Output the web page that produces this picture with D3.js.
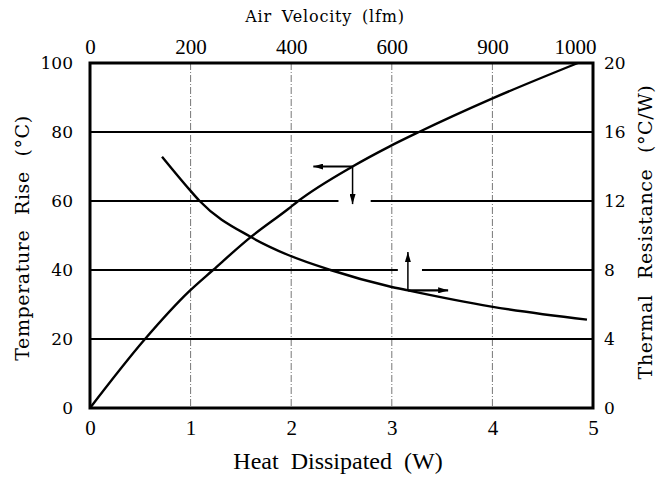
<!DOCTYPE html>
<html><head><meta charset="utf-8">
<script src="https://cdn.jsdelivr.net/npm/d3@7"></script>
<style>body{margin:0;background:#fff}svg{display:block}.tm{font-family:"Liberation Serif","Times New Roman",Times,serif}</style>
</head><body>
<script>
// Data
const heatTicks = [0,1,2,3,4,5];
const airVelocityLabels = ["0","200","400","600","900","1000"];
const tempTicks = [0,20,40,60,80,100];
const resTicks = [0,4,8,12,16,20];

const tempHeat = [0,0.547,0.985,1.223,1.6,1.97,2.07,2.61,2.97,3.27,3.99,4.85];
const tempRise = [0,20,33.8,40,49.6,57.7,60,70,75.7,80,89.6,100];

const resHeat = [0.716,0.985,1.09,1.6,1.97,2.39,2.97,3.16,3.99,4.94];
const resValue = [14.57,12.69,12,9.91,8.87,8,7.06,6.82,5.88,5.12];

// arrows (data units)
const leftArrow = {heat:2.61, temp:70, toHeat:2.22, toTemp:59.1};
const rightArrow = {heat:3.16, res:6.82, toHeat:3.56, toRes:9.04};
// gridline gaps (heat ranges)
const gap60 = [2.47,2.79];
const gap40 = [3.06,3.30];

const W=661,H=481;
const m={l:90,r:593,t:63,b:408};
const svg=d3.select("body").append("svg").attr("width",W).attr("height",H);
const x=d3.scaleLinear().domain([0,5]).range([m.l,m.r]);
const yT=d3.scaleLinear().domain([0,100]).range([m.b,m.t]);
const yR=d3.scaleLinear().domain([0,20]).range([m.b,m.t]);

// vertical dashed grid
svg.append("g").selectAll("line").data([1,2,3,4]).join("line")
  .attr("x1",d=>x(d)).attr("x2",d=>x(d)).attr("y1",m.t).attr("y2",m.b)
  .attr("stroke","#777").attr("stroke-width",1).attr("stroke-dasharray","7,2,1,2");

// horizontal grid with gaps
const hg=svg.append("g").attr("stroke","#000").attr("stroke-width",2);
[20,40,60,80].forEach(t=>{
  let segs=[[0,5]];
  if(t===60) segs=[[0,gap60[0]],[gap60[1],5]];
  if(t===40) segs=[[0,gap40[0]],[gap40[1],5]];
  segs.forEach(s=>hg.append("line").attr("x1",x(s[0])).attr("x2",x(s[1]))
    .attr("y1",yT(t)).attr("y2",yT(t)));
});

// curves
const lineT=d3.line().x((d,i)=>x(tempHeat[i])).y((d,i)=>yT(tempRise[i])).curve(d3.curveMonotoneX);
svg.append("path").attr("d",lineT(tempHeat)).attr("fill","none").attr("stroke","#000").attr("stroke-width",2.4);
const lineR=d3.line().x((d,i)=>x(resHeat[i])).y((d,i)=>yR(resValue[i])).curve(d3.curveMonotoneX);
svg.append("path").attr("d",lineR(resHeat)).attr("fill","none").attr("stroke","#000").attr("stroke-width",2.4);

// arrowheads
const defs=svg.append("defs");
defs.append("marker").attr("id","ah").attr("viewBox","0 0 10 6").attr("refX",10).attr("refY",3)
  .attr("markerWidth",10).attr("markerHeight",6).attr("markerUnits","userSpaceOnUse").attr("orient","auto")
  .append("path").attr("d","M0,0L10,3L0,6Z").attr("fill","#000");
const ag=svg.append("g").attr("stroke","#000").attr("stroke-width",1.5);
ag.append("line").attr("x1",x(leftArrow.heat)).attr("y1",yT(leftArrow.temp))
  .attr("x2",x(leftArrow.toHeat)).attr("y2",yT(leftArrow.temp)).attr("stroke-width",2.2).attr("marker-end","url(#ah)");
ag.append("line").attr("x1",x(leftArrow.heat)).attr("y1",yT(leftArrow.temp))
  .attr("x2",x(leftArrow.heat)).attr("y2",yT(leftArrow.toTemp)).attr("marker-end","url(#ah)");
ag.append("line").attr("x1",x(rightArrow.heat)).attr("y1",yR(rightArrow.res))
  .attr("x2",x(rightArrow.heat)).attr("y2",yR(rightArrow.toRes)).attr("marker-end","url(#ah)");
ag.append("line").attr("x1",x(rightArrow.heat)).attr("y1",yR(rightArrow.res))
  .attr("x2",x(rightArrow.toHeat)).attr("y2",yR(rightArrow.res)).attr("stroke-width",2.2).attr("marker-end","url(#ah)");

// frame
svg.append("rect").attr("x",m.l).attr("y",m.t).attr("width",m.r-m.l).attr("height",m.b-m.t)
  .attr("fill","none").attr("stroke","#000").attr("stroke-width",3);

// axes (labels only, frame drawn above)
const axB=d3.axisBottom(x).tickValues(heatTicks).tickSize(0).tickPadding(12).tickFormat(d3.format("d"));
const gB=svg.append("g").attr("transform",`translate(0,${m.b})`).call(axB);
const axTop=d3.axisTop(x).tickValues(heatTicks).tickSize(0).tickPadding(9).tickFormat((d,i)=>airVelocityLabels[i]);
const gTop=svg.append("g").attr("transform",`translate(0,${m.t})`).call(axTop);
const axL=d3.axisLeft(yT).tickValues(tempTicks).tickSize(0).tickPadding(17);
const gL=svg.append("g").attr("transform",`translate(${m.l},0)`).call(axL);
const axR=d3.axisRight(yR).tickValues(resTicks).tickSize(0).tickPadding(11);
const gR=svg.append("g").attr("transform",`translate(${m.r},0)`).call(axR);
[gB,gTop,gL,gR].forEach(g=>g.select(".domain").remove());
[gB,gTop].forEach(g=>g.attr("font-family",null).selectAll("text").attr("class","tm").attr("font-size",21).attr("fill","#000"));
gTop.selectAll("text").filter((d,i)=>i===5).attr("text-anchor","end").attr("dx",3);
[gL,gR].forEach(g=>g.attr("font-family","DejaVu Serif").selectAll("text").attr("font-size",17).attr("fill","#000"));

// titles
svg.append("text").attr("class","tm").attr("x",338).attr("y",469).attr("text-anchor","middle")
  .attr("font-size",24).attr("word-spacing",6).text("Heat Dissipated (W)");
svg.append("text").attr("x",325).attr("y",22).attr("text-anchor","middle")
  .attr("font-family","DejaVu Serif").attr("font-size",16).attr("letter-spacing",0.8).attr("word-spacing",4).text("Air Velocity (lfm)");
svg.append("text").attr("transform",`translate(29,238) rotate(-90)`).attr("text-anchor","middle")
  .attr("font-family","DejaVu Serif").attr("font-size",19).attr("letter-spacing",0.6).attr("word-spacing",8).text("Temperature Rise (°C)");
svg.append("text").attr("transform",`translate(652,232) rotate(-90)`).attr("text-anchor","middle")
  .attr("font-family","DejaVu Serif").attr("font-size",19).attr("letter-spacing",0.6).attr("word-spacing",9).text("Thermal Resistance (°C/W)");
</script>
</body></html>
